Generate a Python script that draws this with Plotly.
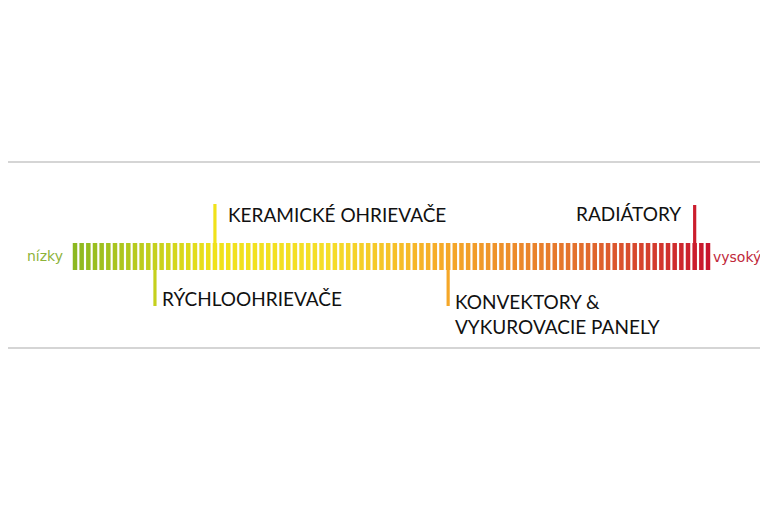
import plotly.graph_objects as go

# data
n_bars = 96
bar_index = list(range(n_bars))
bar_top = [235] * n_bars
bar_bottom = [262] * n_bars
marker_names = ["RÝCHLOOHRIEVAČE", "KERAMICKÉ OHRIEVAČE", "KONVEKTORY &<br>VYKUROVACIE PANELY", "RADIÁTORY"]
marker_index = [12, 21, 56, 93]
marker_top = [235, 196, 235, 197]
marker_bottom = [298, 262, 298, 262]
low_label = "nízky"
high_label = "vysoký"

# gradient colours (style)
stops = [(0.0, (140, 184, 32)), (0.22, (240, 226, 26)), (0.4, (245, 222, 40)),
         (0.58, (246, 170, 40)), (0.8, (226, 110, 45)), (1.0, (200, 20, 45))]
def col(t):
    for (t0, c0), (t1, c1) in zip(stops, stops[1:]):
        if t <= t1:
            f = (t - t0) / (t1 - t0)
            return "rgb(%d,%d,%d)" % tuple(round(a + (b - a) * f) for a, b in zip(c0, c1))
    return "rgb(%d,%d,%d)" % stops[-1][1]
colors = [col(i / (n_bars - 1)) for i in bar_index]

W, H = 752, 496
sp = 633 / 95
fig = go.Figure()
fig.add_bar(x=bar_index, base=bar_top, y=[b - t for t, b in zip(bar_top, bar_bottom)],
            marker=dict(color=colors, line=dict(width=0)), width=4.5 / sp)
fig.add_bar(x=marker_index, base=marker_top, y=[b - t for t, b in zip(marker_top, marker_bottom)],
            marker=dict(color=[colors[i] for i in marker_index], line=dict(width=0)), width=3.2 / sp)

x0 = -67 / sp
fig.update_layout(
    width=W, height=H, margin=dict(l=0, r=0, t=0, b=0), showlegend=False,
    barmode="overlay", plot_bgcolor="white", paper_bgcolor="white",
    xaxis=dict(range=[x0, x0 + W / sp], visible=False),
    yaxis=dict(range=[H, 0], visible=False),
)
fig.add_shape(type="rect", xref="paper", yref="y", x0=-4 / W, x1=757 / W, y0=154, y1=340,
              line=dict(color="#c8c8c8", width=1.5), layer="below")

font = dict(family="Lato", size=19, color="#111")
pos = [(0.7, 290, "left", "middle"), (1.6, 206, "left", "middle"),
       (0.7, 280, "left", "top"), (-1.7, 205, "right", "middle")]
for name, idx, (dx, y, xa, ya) in zip(marker_names, marker_index, pos):
    fig.add_annotation(x=idx + dx, y=y, text=name, showarrow=False, xanchor=xa, yanchor=ya,
                       align="left", font=font)
fig.add_annotation(x=-1.5, y=248, text=low_label, showarrow=False, xanchor="right",
                   font=dict(family="DejaVu Sans", size=14, color="#8db33a"))
fig.add_annotation(x=n_bars - 0.6, y=249, text=high_label, showarrow=False, xanchor="left",
                   font=dict(family="DejaVu Sans", size=14, color="#c0283a"))
fig.write_html("out.html")
